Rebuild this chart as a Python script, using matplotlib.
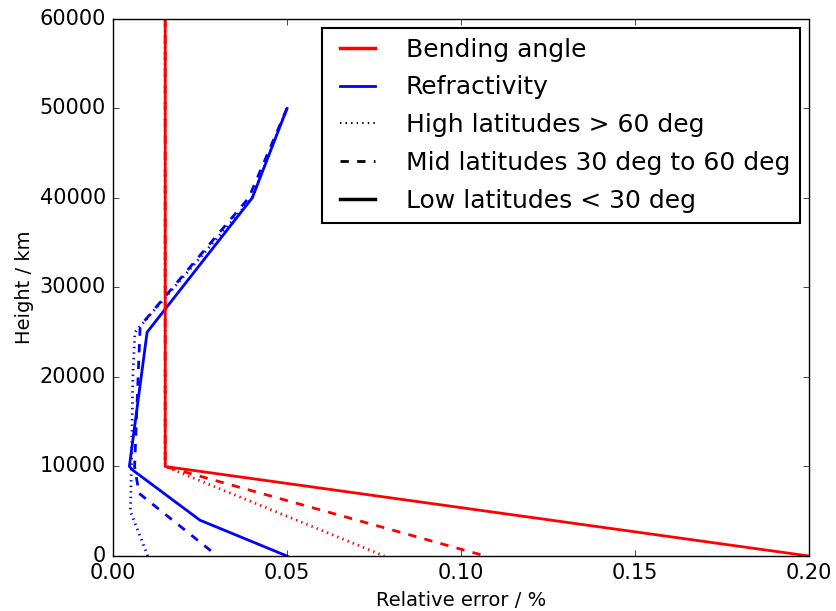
import matplotlib
matplotlib.use('Agg')
import matplotlib.pyplot as plt
from matplotlib.lines import Line2D

plt.style.use('classic')

# Bending angle relative error (%) vs height (km)
bend_low_x = [0.015, 0.015, 0.2]
bend_low_y = [60000, 10000, 0]
bend_mid_x = [0.015, 0.015, 0.107]
bend_mid_y = [60000, 10000, 0]
bend_high_x = [0.015, 0.015, 0.078]
bend_high_y = [60000, 10000, 0]

# Refractivity relative error
refr_low_x = [0.05, 0.04, 0.0098, 0.0047, 0.006, 0.025, 0.05]
refr_low_y = [50000, 40000, 25000, 10000, 9500, 4000, 0]
refr_mid_x = [0.05, 0.039, 0.0078, 0.0062, 0.0075, 0.03]
refr_mid_y = [50000, 40000, 25700, 10000, 7000, 0]
refr_high_x = [0.05, 0.04, 0.0063, 0.0057, 0.0053, 0.005, 0.01]
refr_high_y = [50000, 40000, 25000, 20000, 10000, 5000, 0]

fig = plt.figure(figsize=(8.37, 6.11), dpi=100, facecolor='white')
ax = fig.add_axes([0.135, 0.09, 0.8315, 0.879])

ax.plot(refr_high_x, refr_high_y, color='blue', ls=':', lw=2)
ax.plot(refr_mid_x, refr_mid_y, color='blue', ls='--', lw=2)
ax.plot(refr_low_x, refr_low_y, color='blue', ls='-', lw=2)
ax.plot(bend_high_x, bend_high_y, color='red', ls=':', lw=2)
ax.plot(bend_mid_x, bend_mid_y, color='red', ls='--', lw=2)
ax.plot(bend_low_x, bend_low_y, color='red', ls='-', lw=2)

ax.set_xlim(0, 0.2)
ax.set_ylim(0, 60000)
ax.set_xticks([0.0, 0.05, 0.10, 0.15, 0.20])
ax.set_xticklabels(['0.00', '0.05', '0.10', '0.15', '0.20'])
ax.set_yticks(range(0, 60001, 10000))
ax.tick_params(labelsize=15, pad=5)
ax.set_xlabel('Relative error / %', fontsize=14, labelpad=6)
ax.set_ylabel('Height / km', fontsize=14, labelpad=4)

handles = [
    Line2D([], [], color='red', lw=2.5),
    Line2D([], [], color='blue', lw=2),
    Line2D([], [], color='black', lw=1.5, ls=':'),
    Line2D([], [], color='black', lw=2, ls='--'),
    Line2D([], [], color='black', lw=2.5, ls='-'),
]
labels = ['Bending angle', 'Refractivity', 'High latitudes > 60 deg',
          'Mid latitudes 30 deg to 60 deg', 'Low latitudes < 30 deg']
leg = ax.legend(handles, labels, loc='upper right', fontsize=18,
                frameon=True, fancybox=False, borderaxespad=0.35,
                borderpad=0.4, handlelength=2.0, handletextpad=0.95,
                labelspacing=0.55)
leg.get_frame().set_linewidth(1.5)

fig.savefig('out.png', dpi=100, facecolor='white')
